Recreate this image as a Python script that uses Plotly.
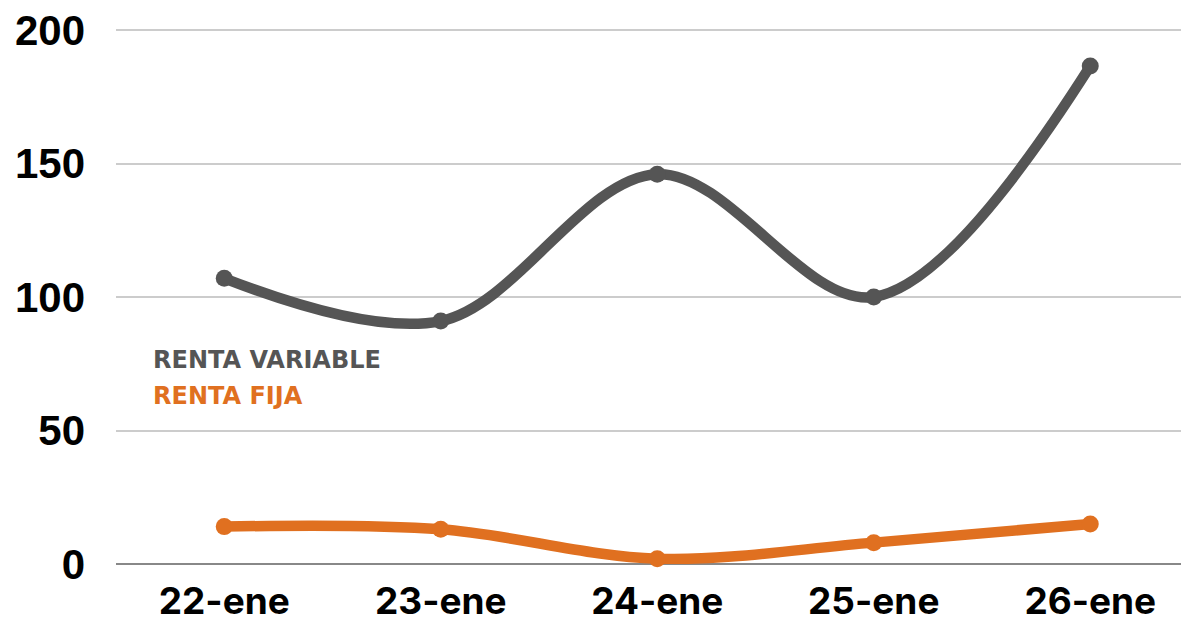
import plotly.graph_objects as go

categories = ["22-ene", "23-ene", "24-ene", "25-ene", "26-ene"]
renta_variable = [107, 91, 146, 100, 186.5]
renta_fija = [14, 13, 2, 8, 15]
y_ticks = [0, 50, 100, 150, 200]

GRAY = "#555555"
ORANGE = "#E07020"

fig = go.Figure()
fig.add_trace(go.Scatter(
    x=categories, y=renta_variable, name="RENTA VARIABLE",
    mode="lines+markers", line=dict(color=GRAY, width=10.5, shape="spline", smoothing=1.0),
    marker=dict(size=17, color=GRAY), cliponaxis=False))
fig.add_trace(go.Scatter(
    x=categories, y=renta_fija, name="RENTA FIJA",
    mode="lines+markers", line=dict(color=ORANGE, width=10.5, shape="spline", smoothing=1.0),
    marker=dict(size=17, color=ORANGE), cliponaxis=False))

OFF = 8  # page body margin
W, H = 1189, 621
y0_px = 564 - OFF          # pixel of value 0 (figure coords)
px_per_unit = (564 - 30) / 200.0
T = 14
ymax = (y0_px - T) / px_per_unit
L = 116 - OFF
B = H - y0_px
R = 0
pw = W - L - R
ph = H - T - B
cat_px = (1090 - 224) / 4.0
xmax = -0.5 + pw / cat_px

fig.add_annotation(x=(151 - OFF - L) / pw, y=(564 - 360) / ph, xref="paper", yref="paper",
                   text="<b>RENTA VARIABLE</b>",
                   showarrow=False, xanchor="left", yanchor="middle",
                   font=dict(family="DejaVu Sans", size=24, color=GRAY))
fig.add_annotation(x=(151 - OFF - L) / pw, y=(564 - 396) / ph, xref="paper", yref="paper",
                   text="<b>RENTA FIJA</b>",
                   showarrow=False, xanchor="left", yanchor="middle",
                   font=dict(family="DejaVu Sans", size=24, color=ORANGE))

fig.update_layout(
    width=W, height=H,
    margin=dict(l=L, r=R, t=T, b=B, autoexpand=False),
    plot_bgcolor="white", paper_bgcolor="white",
    showlegend=False,
    xaxis=dict(range=[-0.5, xmax], showgrid=False, showline=False, zeroline=False,
               automargin=False, ticklabeloverflow="allow",
               ticks="", tickfont=dict(family="Inter", size=37, color="black", weight="bold"),
               ticklabelstandoff=12),
    yaxis=dict(range=[0, ymax], tickvals=y_ticks, showgrid=True, gridcolor="#cccccc",
               gridwidth=1.5, zeroline=True, zerolinecolor="#888888", zerolinewidth=1.5,
               showline=False, ticks="", automargin=False, ticklabeloverflow="allow",
               tickfont=dict(family="Liberation Sans", size=42, color="black", weight="bold"),
               ticklabelstandoff=30),
)

fig.write_html("out.html")
